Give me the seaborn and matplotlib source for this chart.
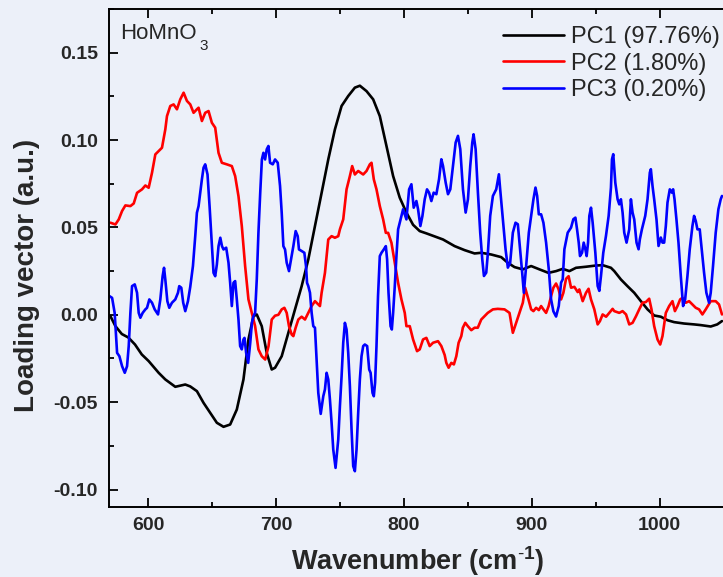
import numpy as np
import pandas as pd
import matplotlib
matplotlib.use("Agg")
import matplotlib.pyplot as plt
from matplotlib.ticker import MultipleLocator, FormatStrFormatter
import seaborn as sns

# ---- PCA loading vectors of HoMnO3 (wavenumber in cm^-1, loading in a.u.) ----
pc1_x = [570.6, 574.5, 579.5, 584.6, 589.8, 595.1, 600.5, 608.3, 613.5, 621.3, 629.1, 633.0,
         638.2, 643.4, 648.6, 653.8, 659.0, 664.2, 669.4, 674.6, 678.5, 682.4, 685.0, 688.9,
         692.8, 696.7, 699.3, 704.5, 709.7, 714.9, 720.1, 725.3, 730.5, 735.7, 740.9, 746.1,
         751.3, 756.5, 761.7, 765.6, 770.8, 776.0, 781.2, 786.4, 791.6, 796.8, 802.0, 807.2,
         812.4, 817.6, 825.4, 830.6, 839.7, 847.5, 855.3, 860.5, 868.3, 876.1, 881.2, 886.5,
         893.0, 899.5, 906.0, 913.0, 919.0, 924.2, 929.4, 934.6, 942.4, 950.2, 955.4, 961.9,
         964.5, 969.7, 974.8, 980.1, 985.3, 990.5, 995.7, 1000.9, 1006.1, 1011.3, 1019.1,
         1026.9, 1032.1, 1039.9, 1045.0, 1048.7]
pc1_y = [-0.0008, -0.0065, -0.0110, -0.0130, -0.0170, -0.0227, -0.0265, -0.0332, -0.0370, -0.0412,
         -0.0399, -0.0410, -0.0437, -0.0504, -0.0561, -0.0618, -0.0641, -0.0628, -0.0542, -0.0370,
         -0.0141, -0.0008, 0.0002, -0.0065, -0.0218, -0.0313, -0.0303, -0.0237, -0.0103, 0.0031,
         0.0164, 0.0317, 0.0508, 0.0698, 0.0889, 0.1061, 0.1195, 0.1252, 0.1300, 0.1311, 0.1280,
         0.1233, 0.1137, 0.0966, 0.0794, 0.0670, 0.0585, 0.0515, 0.0479, 0.0466, 0.0445, 0.0431,
         0.0393, 0.0370, 0.0351, 0.0355, 0.0345, 0.0330, 0.0298, 0.0273, 0.0260, 0.0279, 0.0260,
         0.0240, 0.0250, 0.0263, 0.0250, 0.0269, 0.0275, 0.0282, 0.0284, 0.0269, 0.0250, 0.0202,
         0.0164, 0.0126, 0.0078, 0.0031, -0.0004, -0.0011, -0.0031, -0.0042, -0.0050, -0.0055,
         -0.0059, -0.0067, -0.0055, -0.0036]

pc2_x = [570.6, 574.5, 577.1, 579.7, 582.3, 586.2, 588.8, 591.4, 595.3, 597.9, 600.5, 603.1,
         605.7, 608.3, 610.9, 613.5, 614.8, 617.4, 620.0, 622.6, 625.2, 627.8, 630.4, 633.0,
         635.6, 638.2, 639.5, 642.1, 644.7, 647.3, 649.9, 652.5, 655.1, 657.7, 661.6, 665.5,
         668.1, 670.7, 673.3, 675.9, 678.5, 681.1, 683.7, 686.3, 688.9, 691.6, 694.2, 696.7,
         699.3, 701.9, 704.5, 706.6, 708.4, 710.2, 712.3, 713.6, 715.4, 717.5, 720.1, 722.7,
         725.3, 727.9, 730.5, 733.1, 734.4, 735.7, 738.3, 740.9, 743.5, 746.1, 748.7, 750.0,
         752.6, 755.2, 757.8, 759.6, 761.7, 764.3, 768.2, 770.8, 773.4, 774.7, 776.5, 778.6,
         781.2, 783.8, 785.9, 787.7, 790.3, 792.9, 795.5, 798.1, 800.7, 802.0, 804.6, 807.2,
         810.3, 812.4, 815.0, 817.6, 820.2, 822.8, 826.7, 829.3, 831.9, 833.2, 835.0, 837.1,
         839.1, 841.0, 842.8, 844.9, 846.1, 848.0, 850.0, 852.7, 855.3, 857.8, 860.5, 863.1,
         865.6, 869.6, 873.4, 878.7, 882.6, 885.2, 887.8, 890.4, 893.0, 894.8, 897.4, 899.5,
         901.3, 903.4, 905.5, 907.3, 909.1, 911.2, 913.2, 915.1, 916.9, 919.0, 921.0, 922.9,
         924.7, 926.8, 928.8, 930.7, 933.3, 935.9, 937.2, 939.8, 942.4, 944.4, 946.3, 948.9,
         951.5, 953.3, 955.4, 958.1, 960.6, 963.2, 964.5, 968.4, 971.0, 973.7, 976.2, 978.8,
         981.5, 984.0, 986.6, 989.2, 991.8, 993.6, 995.7, 998.3, 1000.4, 1002.2, 1004.8,
         1007.4, 1010.0, 1011.9, 1013.9, 1016.0, 1017.8, 1020.4, 1023.0, 1025.6, 1028.2,
         1030.8, 1033.4, 1036.0, 1039.9, 1043.8, 1046.4, 1048.7]
pc2_y = [0.0527, 0.0517, 0.0546, 0.0594, 0.0626, 0.0622, 0.0637, 0.0698, 0.0718, 0.0740, 0.0727,
         0.0813, 0.0918, 0.0937, 0.0956, 0.1061, 0.1137, 0.1195, 0.1204, 0.1176, 0.1233, 0.1271,
         0.1224, 0.1204, 0.1156, 0.1176, 0.1185, 0.1109, 0.1156, 0.1166, 0.1099, 0.1071, 0.0927,
         0.0870, 0.0861, 0.0851, 0.0794, 0.0679, 0.0508, 0.0279, 0.0088, 0.0011, -0.0065, -0.0198,
         -0.0237, -0.0256, -0.0179, -0.0027, -0.0005, 0.0000, 0.0031, 0.0040, 0.0011, -0.0065,
         -0.0113, -0.0122, -0.0074, -0.0027, -0.0011, -0.0027, 0.0011, 0.0050, 0.0078, 0.0059,
         0.0050, 0.0126, 0.0240, 0.0431, 0.0450, 0.0441, 0.0450, 0.0489, 0.0546, 0.0718, 0.0794,
         0.0851, 0.0803, 0.0823, 0.0803, 0.0823, 0.0861, 0.0870, 0.0775, 0.0718, 0.0622, 0.0546,
         0.0469, 0.0469, 0.0412, 0.0298, 0.0183, 0.0088, 0.0011, -0.0065, -0.0065, -0.0141,
         -0.0208, -0.0198, -0.0141, -0.0132, -0.0179, -0.0160, -0.0151, -0.0179, -0.0230, -0.0275,
         -0.0303, -0.0275, -0.0284, -0.0237, -0.0160, -0.0122, -0.0074, -0.0046, -0.0065, -0.0088,
         -0.0074, -0.0074, -0.0027, -0.0008, 0.0011, 0.0031, 0.0034, 0.0031, 0.0011, -0.0103,
         -0.0046, 0.0011, 0.0069, 0.0155, 0.0088, 0.0031, 0.0021, 0.0040, 0.0027, 0.0050, 0.0031,
         0.0011, 0.0050, 0.0107, 0.0155, 0.0179, 0.0145, 0.0088, 0.0126, 0.0206, 0.0221, 0.0155,
         0.0160, 0.0130, 0.0145, 0.0078, 0.0126, 0.0149, 0.0088, 0.0031, -0.0055, -0.0036, 0.0002,
         -0.0011, 0.0011, 0.0034, 0.0021, 0.0011, 0.0021, 0.0002, -0.0055, -0.0046, -0.0008,
         0.0031, 0.0069, 0.0073, 0.0092, 0.0031, -0.0065, -0.0141, -0.0170, -0.0122, 0.0011,
         0.0050, 0.0078, 0.0021, 0.0050, 0.0088, 0.0097, 0.0069, 0.0078, 0.0059, 0.0040, 0.0031,
         0.0002, 0.0031, 0.0078, 0.0078, 0.0059, 0.0002]

pc3_x = [569.8, 571.9, 573.9, 575.8, 577.6, 579.7, 581.8, 583.6, 584.9, 586.2, 587.5, 589.6,
         591.4, 592.7, 594.0, 595.8, 597.9, 599.2, 601.0, 603.1, 605.2, 607.8, 609.6, 611.4,
         612.5, 613.5, 615.1, 616.6, 618.7, 621.3, 623.4, 624.4, 626.0, 627.5, 629.1, 631.2,
         633.0, 635.1, 636.9, 638.2, 639.5, 640.8, 642.1, 643.4, 644.7, 646.5, 648.1, 650.0,
         651.2, 652.5, 653.8, 655.1, 656.5, 657.8, 659.0, 661.1, 662.9, 664.2, 665.5, 666.8,
         668.1, 669.4, 670.7, 672.0, 673.3, 674.6, 675.4, 676.7, 678.3, 679.9, 681.2, 682.4,
         683.7, 685.0, 686.3, 687.7, 689.0, 690.2, 691.5, 692.8, 694.1, 695.4, 697.5, 699.3,
         701.4, 703.2, 704.5, 705.8, 707.1, 708.4, 710.2, 711.8, 713.6, 715.4, 717.0, 718.0,
         720.1, 722.2, 723.5, 724.3, 725.3, 726.6, 727.9, 729.2, 730.5, 731.8, 733.1, 735.0,
         737.0, 738.3, 739.6, 740.9, 742.2, 743.5, 744.8, 746.6, 748.7, 750.0, 751.3, 752.6,
         753.9, 755.2, 756.5, 757.8, 759.1, 760.4, 761.7, 763.0, 764.3, 765.6, 766.9, 768.2,
         769.5, 771.3, 772.9, 774.0, 775.5, 776.5, 777.5, 778.6, 779.8, 781.2, 782.5, 784.3,
         785.9, 786.9, 788.0, 789.6, 790.6, 791.6, 792.9, 794.2, 795.5,
         796.8, 799.4, 802.0, 804.1, 805.9, 807.7, 809.8, 811.1, 812.9, 814.5, 816.3, 818.1,
         819.7, 821.5, 823.3, 825.4, 827.5, 829.3, 830.6, 832.7, 834.5, 836.3, 838.4, 840.5,
         842.3, 844.1, 846.2, 848.3, 850.1, 851.9, 853.5, 854.5, 856.1, 857.9, 859.7, 861.3,
         862.6, 864.4, 865.7, 867.5, 869.6, 872.2, 874.3, 875.3, 877.4, 879.5, 881.3, 883.1,
         885.2, 887.3, 889.1, 890.9, 892.5, 893.8, 895.6, 897.7, 899.5, 901.3, 902.9, 904.2,
         905.5, 907.3, 909.1, 911.2, 913.3, 915.1, 916.9, 919.0, 921.1, 922.9, 924.2, 925.5,
         928.1, 930.7, 932.5, 934.1, 935.4, 936.7, 937.7, 939.3, 940.6, 941.9, 942.9, 944.0,
         945.0, 946.3, 947.6, 949.7, 951.5, 952.8, 954.1, 955.9, 958.0, 960.1, 961.9, 962.7,
         963.7, 965.3, 967.1, 968.4, 969.7, 971.0, 972.3, 974.1, 976.2, 977.5, 978.8, 980.1,
         981.9, 983.5, 984.5, 986.1, 988.7, 990.5, 992.3, 993.1, 994.4, 995.7, 997.5, 999.1,
         1000.9, 1002.2, 1003.5, 1004.8, 1006.1, 1007.9, 1009.5, 1010.5, 1011.6, 1013.1,
         1014.7, 1016.5, 1018.3, 1019.9, 1021.7, 1023.5, 1025.6, 1026.9, 1028.2, 1029.5,
         1031.3, 1032.9, 1034.7, 1036.5, 1038.6, 1039.9, 1041.7, 1043.8, 1045.9, 1047.7, 1048.7]
pc3_y = [0.0107, 0.0097, 0.0011, -0.0218, -0.0237, -0.0294, -0.0332, -0.0294, -0.0179, 0.0011,
         0.0164, 0.0174, 0.0126, 0.0011, -0.0017, 0.0011, 0.0031, 0.0040, 0.0088, 0.0069, 0.0031,
         0.0002, 0.0088, 0.0221, 0.0269, 0.0202, 0.0078, 0.0040, 0.0069, 0.0088, 0.0126, 0.0164,
         0.0155, 0.0069, 0.0021, 0.0078, 0.0160, 0.0279, 0.0450, 0.0584, 0.0622, 0.0698, 0.0775,
         0.0842, 0.0861, 0.0803, 0.0622, 0.0393, 0.0240, 0.0221, 0.0288, 0.0393, 0.0441, 0.0393,
         0.0374, 0.0384, 0.0298, 0.0183, 0.0050, 0.0183, 0.0193, 0.0088, -0.0027, -0.0179, -0.0198,
         -0.0141, -0.0132, -0.0218, -0.0275, -0.0160, -0.0046, -0.0008, 0.0011, 0.0202, 0.0469,
         0.0698, 0.0889, 0.0927, 0.0889, 0.0947, 0.0966, 0.0870, 0.0861, 0.0889, 0.0870, 0.0737,
         0.0584, 0.0393, 0.0374, 0.0298, 0.0250, 0.0317, 0.0393, 0.0479, 0.0450, 0.0374, 0.0365,
         0.0355, 0.0279, 0.0183, 0.0164, 0.0126, 0.0011, -0.0065, -0.0074, -0.0256, -0.0447,
         -0.0567, -0.0466, -0.0427, -0.0332, -0.0370, -0.0485, -0.0618, -0.0771, -0.0876, -0.0714,
         -0.0523, -0.0353, -0.0160, -0.0046, -0.0084, -0.0218, -0.0408, -0.0656, -0.0866, -0.0895,
         -0.0771, -0.0561, -0.0370, -0.0237, -0.0179, -0.0170, -0.0179, -0.0313, -0.0332, -0.0447,
         -0.0466, -0.0389, -0.0179, 0.0107, 0.0336, 0.0355, 0.0374, 0.0393, 0.0317, 0.0126,
         -0.0065, -0.0084, 0.0011, 0.0164, 0.0336, 0.0489,
         0.0527, 0.0604, 0.0546, 0.0718, 0.0747, 0.0613, 0.0651, 0.0604, 0.0508, 0.0565, 0.0661,
         0.0718, 0.0699, 0.0651, 0.0699, 0.0690, 0.0776, 0.0890, 0.0852, 0.0756, 0.0690, 0.0718,
         0.0852, 0.0986, 0.1024, 0.0948, 0.0718, 0.0585, 0.0661, 0.0852, 0.0986, 0.1033, 0.0948,
         0.0699, 0.0470, 0.0317, 0.0222, 0.0241, 0.0355, 0.0566, 0.0680, 0.0718, 0.0804, 0.0718,
         0.0546, 0.0375, 0.0270, 0.0298, 0.0470, 0.0527, 0.0518, 0.0375, 0.0241, 0.0126, 0.0279,
         0.0470, 0.0566, 0.0661, 0.0728, 0.0680, 0.0575, 0.0575, 0.0527, 0.0413, 0.0260, 0.0088,
         0.0020, -0.0010, 0.0050, 0.0184, 0.0203, 0.0375, 0.0470, 0.0499, 0.0547, 0.0556, 0.0489,
         0.0413, 0.0336, 0.0355, 0.0413, 0.0375, 0.0336, 0.0413, 0.0566, 0.0613, 0.0527, 0.0355,
         0.0165, 0.0137, 0.0222, 0.0355, 0.0451, 0.0566, 0.0728, 0.0890, 0.0919, 0.0756, 0.0661,
         0.0632, 0.0661, 0.0585, 0.0470, 0.0413, 0.0489, 0.0661, 0.0585, 0.0546, 0.0413, 0.0375,
         0.0432, 0.0489, 0.0566, 0.0661, 0.0814, 0.0833, 0.0737, 0.0661, 0.0546, 0.0394, 0.0442,
         0.0413, 0.0413, 0.0508, 0.0642, 0.0718, 0.0699, 0.0718, 0.0661, 0.0546, 0.0413, 0.0222,
         0.0050, 0.0088, 0.0222, 0.0375, 0.0508, 0.0566, 0.0537, 0.0489, 0.0489, 0.0375, 0.0241,
         0.0126, 0.0069, 0.0126, 0.0279, 0.0470, 0.0604, 0.0661, 0.0680]

labels = ["PC1 (97.76%)", "PC2 (1.80%)", "PC3 (0.20%)"]
colors = ["#000000", "#FF0000", "#0000FF"]

x_ticks = [600, 700, 800, 900, 1000]
y_ticks = [-0.10, -0.05, 0.00, 0.05, 0.10, 0.15]

# ---- style ----
sns.set_style("ticks")
bg = "#ECF0F9"
plt.rcParams["font.family"] = ["Liberation Sans", "DejaVu Sans"]
plt.rcParams["mathtext.fontset"] = "custom"
plt.rcParams["mathtext.rm"] = "Liberation Sans"
plt.rcParams["mathtext.bf"] = "Liberation Sans:bold"
plt.rcParams["mathtext.default"] = "rm"
plt.rcParams["axes.unicode_minus"] = False

fig = plt.figure(figsize=(7.23, 5.77), dpi=100, facecolor=bg)
ax = fig.add_axes([0.1508, 0.1213, 0.8492, 0.8631])
ax.set_facecolor(bg)

series = [(pc1_x, pc1_y), (pc2_x, pc2_y), (pc3_x, pc3_y)]
for (xs, ys), lab, col in zip(series, labels, colors):
    df = pd.DataFrame({"wavenumber": xs, "loading": ys})
    sns.lineplot(data=df, x="wavenumber", y="loading", ax=ax, color=col, lw=1.9,
                 label=lab, estimator=None, sort=False)

ax.set_xlim(569.5, 1049.5)
ax.set_ylim(-0.11, 0.175)
ax.set_xticks(x_ticks)
ax.set_yticks(y_ticks)
ax.xaxis.set_minor_locator(MultipleLocator(50))
ax.yaxis.set_minor_locator(MultipleLocator(0.025))
ax.yaxis.set_major_formatter(FormatStrFormatter("%.2f"))

for side in ["left", "bottom", "top"]:
    ax.spines[side].set_linewidth(1.4)
    ax.spines[side].set_color("black")
ax.spines["right"].set_visible(False)

ax.tick_params(which="both", direction="in", top=True, right=False, color="black", width=1.3)
ax.tick_params(which="major", length=6.5)
ax.tick_params(which="minor", length=3.6)
ax.tick_params(axis="y", which="major", pad=8)
ax.tick_params(axis="x", which="major", pad=7)
for lbl in ax.get_xticklabels() + ax.get_yticklabels():
    lbl.set_fontsize(14)
    lbl.set_fontweight("bold")

ax.set_xlabel(r"Wavenumber (cm$^{\mathbf{\text{-}1}}$)", fontsize=19.5, fontweight="bold")
ax.set_ylabel("Loading vector (a.u.)", fontsize=20, fontweight="bold")
ax.xaxis.set_label_coords(0.503, -0.075)
ax.yaxis.set_label_coords(-0.112, 0.466)

# sample name with a lowered subscript
ax.text(0.018, 0.972, "HoMnO", transform=ax.transAxes, ha="left", va="top", fontsize=16)
ax.text(0.1475, 0.926, "3", transform=ax.transAxes, ha="left", va="center", fontsize=11)

leg = ax.legend(loc="upper right", bbox_to_anchor=(0.995, 0.966), frameon=False,
                fontsize=17, handlelength=2.6, handletextpad=0.3, labelspacing=0.2,
                borderpad=0.0, borderaxespad=0.0)

fig.savefig("out.png", dpi=100, facecolor=bg)
